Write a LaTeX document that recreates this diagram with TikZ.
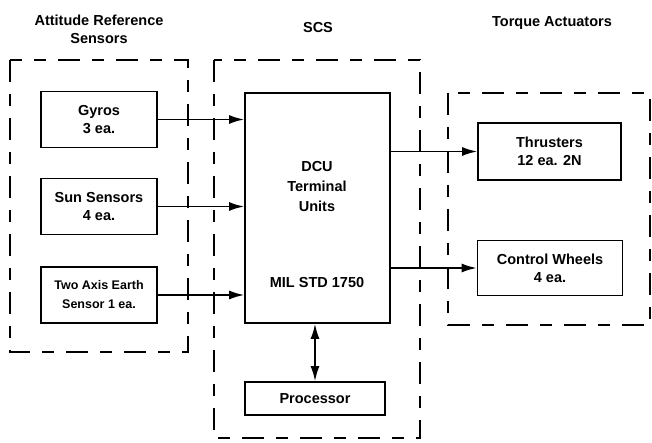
\documentclass[tikz,border=0pt]{standalone}
\usepackage{fontspec}
\setmainfont{Liberation Sans}
\usetikzlibrary{arrows.meta}
\begin{document}
\begin{tikzpicture}[x=1pt,y=-1pt,>={Latex[length=15pt,width=9pt]},
    font=\fontsize{14.5}{18}\selectfont\bfseries,
    blk/.style={draw,line width=1.8pt,align=center,inner sep=0pt},
    grp/.style={line width=2pt,dash pattern=on 22pt off 12pt on 12pt off 12pt},
    con/.style={line width=1.7pt}]
            \useasboundingbox (0,0) rectangle (652,443);
            \def\bw{116} \def\bh{56}
            %===========================================
            \node[align=center] (tars) at (99,29) {Attitude Reference\\Sensors};
            \node (tscs) at (318,28) {SCS};
            \node (ttor) at (552,23) {Torque Actuators};
            %===========================================
            \draw[grp] (10,60) rectangle (188,352);
            \draw[grp] (214,60) rectangle (420,438);
            \draw[grp] (448,93) rectangle (650,325);
            %===========================================
            \node[blk,minimum width=\bw,minimum height=\bh] (gyro) at (99,119.5) {Gyros\\3 ea.};
            \node[blk,minimum width=\bw,minimum height=\bh] (sun) at (99,206.5) {Sun Sensors\\4 ea.};
            \node[blk,minimum width=\bw,minimum height=\bh,font=\fontsize{12.5}{19}\selectfont\bfseries] (earth) at (99,295) {Two Axis Earth\\Sensor 1 ea.};
            \node[blk,minimum width=145,minimum height=230] (dcu) at (317.5,208) {};
            \node[align=center,font=\fontsize{14.5}{20}\selectfont\bfseries] (dcutxt) at (317,187) {DCU\\Terminal\\Units};
            \node (mil) at (317,283) {MIL STD 1750};
            \node[blk,minimum width=140,minimum height=33] (proc) at (315,398.5) {Processor};
            \node[blk,minimum width=143,minimum height=57] (thr) at (549.5,151.5) {Thrusters\\12 ea. 2N};
            \node[blk,minimum width=145,minimum height=55] (whl) at (550,268) {Control Wheels\\4 ea.};
            %===========================================
            \foreach \s in {gyro,sun,earth}
                \draw[con,->] (\s.east) -- (\s.east -| dcu.west);
            \foreach \t in {thr,whl}
                \draw[con,->] (\t.west -| dcu.east) -- (\t.west);
            \draw[con,<->] (proc.north |- dcu.south) -- (proc.north);
    \end{tikzpicture}
\end{document}
